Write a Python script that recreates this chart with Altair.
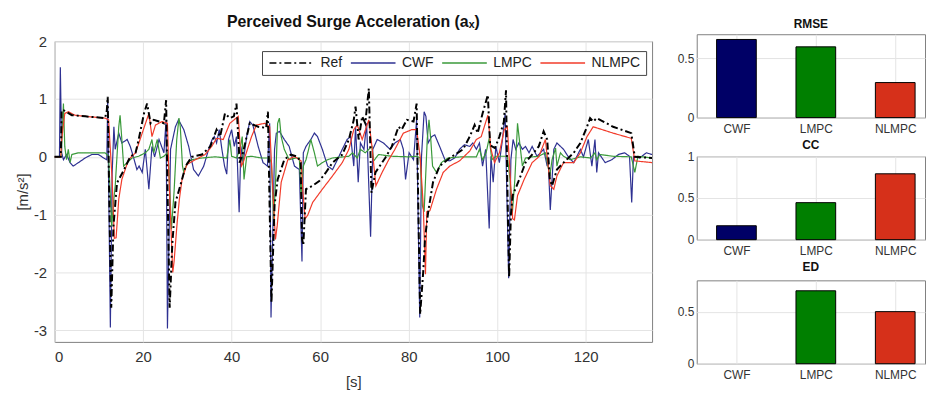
import altair as alt
import pandas as pd

# ---------------- time series ----------------
ref_t = [0, 1.4, 1.6, 2.2, 3.9, 6.9, 11.4, 11.8, 12.0, 12.3, 12.8, 13.3, 14.1, 15.5, 17.1, 18.3, 19.0, 20.2, 20.9,
         21.7, 22.4, 23.6, 24.7, 25.2, 25.5, 26.0, 26.6, 27.3, 28.4, 29.6, 31.0, 33.3, 35.2, 36.6, 37.4, 38.5, 39.6,
         40.5, 41.1, 41.8, 42.5, 44.1, 46.0, 47.8, 48.2, 48.5, 49.0, 49.7, 50.4, 51.9, 53.4, 54.9, 55.6, 55.9, 56.2,
         56.8, 58.3, 59.8, 61.3, 62.8, 65.0, 66.5, 67.6, 68.0, 68.7, 69.5, 70.2, 71.0, 71.6, 72.5, 74.7, 76.2, 77.7,
         78.4, 79.6, 81.1, 81.8, 82.1, 82.6, 83.3, 83.7, 84.4, 85.5, 87.0, 89.3, 92.3, 93.8, 94.9, 95.6, 96.7, 97.9,
         98.4, 99.5, 100.5, 101.5, 102.0, 102.3, 102.7, 103.1, 103.5, 105.0, 106.4, 107.9, 109.4, 110.5, 111.3,
         111.9, 112.4, 113.5, 115.0, 117.3, 118.8, 120.3, 121.0, 121.7, 122.5, 126.2, 130.3, 131.1, 135.0]
ref_v = [0, 0, 0.81, 0.8, 0.72, 0.7, 0.67, 0.8, 1.04, -0.5, -2.61, -1.2, -0.45, -0.25, 0.0, 0.07, 0.3, 0.75, 0.92,
         0.58, 0.64, 0.61, 0.58, 0.98, -0.5, -2.61, -1.5, -0.79, -0.5, -0.16, 0.0, 0.04, 0.18, 0.47, 0.35, 0.75, 0.67,
         0.7, 0.92, -0.1, 0.05, 0.58, 0.52, 0.5, 0.78, -0.5, -2.52, -0.84, -0.39, -0.05, 0.04, 0.0, -0.1, -1.41, -1.53,
         -0.56, -0.5, -0.42, -0.27, -0.1, 0.04, 0.3, 0.64, 0.87, 0.3, 0.7, 0.58, 1.18, -0.62, -0.27, -0.02, 0.18, 0.52,
         0.47, 0.64, 0.61, 0.92, -0.5, -2.72, -1.98, -1.41, -0.96, -0.44, -0.16, -0.02, 0.13, 0.35, 0.55, 0.41, 0.75, 1.07,
         0.2, 0.15, 0.35, 0.6, 1.15, -0.5, -2.08, -1.0, -0.67, -0.39, -0.1, 0.04, 0.18, 0.44, 0.3,
         -0.39, -0.5, -0.22, -0.1, 0.07, 0.24, 0.52, 0.67, 0.61, 0.67, 0.52, 0.41, 0.0, -0.02]

cwf_t = [0, 1.1, 1.3, 1.6, 2.0, 2.7, 3.5, 4.2, 5.4, 6.9, 8.4, 9.9, 11.1, 11.8, 12.0, 12.6, 13.0, 13.4, 13.7, 14.5,
         15.2, 16.4, 17.1, 17.8, 18.6, 19.1, 19.8, 20.5, 21.3, 22.0, 22.6, 23.6, 24.7, 25.2, 25.5, 26.2, 27.3, 28.0,
         29.2, 30.3, 31.4, 32.5, 33.7, 34.8, 35.6, 36.1, 36.6, 37.2, 37.8, 38.4, 38.9, 39.3, 40.0, 40.6, 41.1, 41.7,
         42.1, 42.6, 43.4, 44.1, 44.8, 46.0, 47.1, 48.1, 48.6, 48.9, 49.7, 50.1, 50.8, 51.9, 53.0, 54.2, 55.3, 55.9,
         56.2, 56.8, 57.9, 58.7, 59.4, 60.5, 61.7, 62.8, 63.9, 65.0, 66.1, 66.9, 67.6, 68.0, 68.6, 69.1, 69.9, 70.5,
         71.4, 71.9, 72.9, 74.3, 75.8, 76.9, 78.1, 78.8, 79.3, 80.1, 81.1, 81.8, 82.5, 82.9, 83.5, 83.9, 84.4, 85.2,
         85.9, 87.0, 88.2, 89.3, 90.4, 91.5, 92.6, 93.8, 94.5, 95.3, 96.0, 96.7, 97.4, 98.2, 98.6, 99.1, 99.7, 100.5,
         101.2, 101.8, 102.6, 103.1, 103.6, 104.2, 104.9, 105.7, 106.4, 107.2, 107.9, 109.0, 109.8, 110.5, 111.3,
         111.5, 112.0, 112.8, 113.5, 114.3, 115.0, 116.0, 117.3, 118.8, 119.5, 120.6, 121.4, 122.1, 122.5, 122.9,
         124.4, 125.9, 127.4, 128.8, 129.9, 130.4, 130.8, 132.2, 133.7, 135.0]
cwf_v = [0, 0, 1.55, 0.07, -0.05, 0.04, -0.1, -0.16, -0.1, -0.02, 0.04, 0.04, -0.02, -0.05, 0.98, -2.95, -0.3, 0.52,
         0.13, 0.41, 0.24, 0.3, 0.18, 0.0, -0.22, -0.16, -0.27, 0.13, -0.56, 0.18, 0.0, 0.3, 0.07, 0.64, -2.97, 0.13,
         0.52, 0.64, 0.47, 0.18, -0.22, -0.33, -0.16, 0.13, 0.3, 0.35, 0.24, 0.47, 0.13, -0.16, -0.3, 0.3, 0.47, 0.18,
         0.35, -0.96, 0.18, -0.1, 0.35, 0.61, 0.55, 0.18, -0.1, -0.16, 0.58, -2.78, 0.13, 0.41, 0.44, 0.3, 0.18, -0.16,
         -0.22, -1.81, 0.07, 0.18, 0.3, 0.41, 0.35, 0.13, -0.16, -0.22, -0.05, 0.13, 0.3, 0.35, -0.16, 0.52, -0.44,
         0.24, 0.13, 0.58, -1.38, 0.13, 0.3, 0.24, 0.13, 0.24, 0.3, 0.13, -0.39, 0.07, -0.05, 0.64, -2.78, 0.0, 0.78,
         0.7, 0.24, 0.35, 0.38, 0.18, -0.05, -0.07, -0.02, 0.13, 0.21, 0.18, 0.24, 0.13, 0.24, -0.16, 0.13, -1.24,
         0.01, -0.44, 0.18, -0.1, 0.3, 0.75, -2.1, -0.05, 0.3, 0.13, 0.24, 0.13, 0.18, 0.07, 0.18, 0.01, 0.07, 0.13,
         -0.16, 0.0, -0.92, 0.13, 0.24, 0.18, 0.13, 0.01, -0.1, 0.13, 0.0, 0.3, -0.16, 0.3, -0.27, 0.07, -0.1, -0.05,
         0.04, 0.07, 0.01, -0.79, 0.01, -0.02, 0.07, 0.04]

lmpc_t = [0, 1.5, 2.0, 2.3, 2.7, 3.1, 3.5, 3.9, 5.4, 8.4, 11.4, 12.2, 12.9, 13.3, 13.7, 14.5, 14.8, 15.2, 15.6, 16.4,
          17.5, 19.0, 20.5, 21.3, 22.0, 22.4, 23.2, 23.9, 24.7, 25.5, 25.8, 26.4, 27.0, 27.6, 28.1, 28.4, 28.9, 29.2,
          30.0, 31.0, 33.3, 36.3, 38.9, 39.6, 40.0, 41.1, 41.9, 42.4, 42.8, 43.4, 44.5, 46.7, 48.5, 49.0, 49.5, 50.0,
          50.4, 50.8, 51.2, 51.9, 53.0, 54.5, 55.3, 55.7, 56.2, 56.8, 57.4, 57.9, 58.7, 59.4, 60.5, 61.7, 62.8, 66.5,
          67.3, 68.4, 69.1, 70.2, 71.7, 72.1, 73.2, 76.2, 80.0, 81.8, 82.6, 83.1, 83.5, 84.2, 84.6, 85.0, 85.4, 86.3,
          87.4, 88.9, 92.0, 95.3, 96.0, 96.7, 97.5, 98.2, 98.8, 99.7, 101.2, 102.3, 102.9, 103.4, 104.0, 104.6,
          105.1, 105.7, 106.4, 108.0, 109.4, 110.9, 111.9, 112.4, 113.2, 113.5, 114.3, 115.0, 116.5, 118.8, 121.1,
          122.1, 122.5, 123.2, 126.2, 130.3, 131.1, 131.8, 135.0]
lmpc_v = [0, 0, 0.92, 0.18, -0.05, 0.13, -0.1, 0.04, 0.07, 0.07, 0.07, 0.01, -1.2, -0.8, -0.5, 0.52, 0.72, 0.3,
          -0.16, -0.1, -0.02, 0.01, 0.07, 0.13, 0.3, 0.07, 0.3, -0.02, 0.01, 0.07, -0.16, -1.25, -0.6, 0.3, 0.67, 0.52,
          -0.16, -0.27, -0.1, -0.05, -0.02, 0.0, -0.02, 0.3, 0.01, -0.02, 0.13, 0.35, -0.39, 0.0, 0.01, -0.02, -0.02,
          -0.1, -1.1, -0.3, 0.58, 0.67, 0.35, 0.13, -0.05, -0.02, -0.02, -0.67, -0.16, -0.05, 0.13, 0.3, 0.07, -0.16,
          -0.1, -0.05, -0.02, 0.01, 0.07, -0.02, 0.13, 0.07, 0.18, -0.07, 0.04, 0.01, 0.0, 0.01, -0.02, -0.84, -0.95,
          0.3, 0.64, 0.3, -0.16, -0.27, -0.1, -0.02, 0.0, 0.0, 0.13, -0.05, 0.07, 0.32, -0.05, 0.01, 0.01, 0.01, -0.39,
          -1.0, -0.39, 0.58, 0.24, -0.16, -0.02, 0.0, 0.01, 0.07, -0.33, -0.05, 0.15, -0.16, 0.07, 0.01, -0.05, 0.0,
          -0.02, 0.07, -0.05, 0.04, 0.01, 0.0, -0.27, 0.01, -0.02]

nlmpc_t = [0, 1.4, 1.6, 2.3, 3.1, 4.6, 6.9, 11.4, 12.2, 13.0, 13.5, 13.9, 14.5, 15.2, 16.7, 18.3, 19.8, 21.3, 22.0,
           22.8, 24.3, 25.5, 25.8, 26.7, 27.0, 27.7, 28.2, 28.8, 29.9, 31.8, 34.0, 35.5, 36.6, 38.1, 39.6, 41.5, 42.2,
           42.6, 44.5, 45.6, 47.5, 48.6, 49.3, 49.9, 50.3, 51.2, 52.7, 54.2, 55.7, 56.1, 56.6, 57.2, 58.3, 60.5, 62.8,
           65.0, 66.5, 67.6, 68.4, 69.5, 71.0, 71.7, 72.6, 74.0, 75.5, 76.9, 78.8, 80.7, 81.8, 82.6, 83.3, 83.8, 84.1,
           84.8, 86.3, 87.8, 89.3, 91.5, 93.8, 95.3, 96.4, 97.9, 98.6, 99.4, 100.5, 101.6, 102.3, 102.9, 103.5,
           103.9, 104.6, 106.1, 107.9, 109.4, 110.9, 112.0, 112.8, 113.5, 115.0, 117.3, 118.8, 120.3, 121.7, 126.2,
           130.3, 131.1, 135.0]
nlmpc_v = [0, 0, 0.3, 0.75, 0.78, 0.72, 0.7, 0.67, 0.64, -0.39, -1.41, -1.4, -0.73, -0.39, -0.05, 0.07, 0.41, 0.75,
           0.35, 0.55, 0.61, 0.58, -0.27, -2.0, -1.81, -1.13, -0.73, -0.39, -0.13, -0.05, 0.04, 0.18, 0.32, 0.3, 0.58,
           0.7, -0.16, -0.1, 0.35, 0.55, 0.58, 0.52, -0.56, -1.43, -1.19, -0.44, -0.05, 0.01, -0.07, -0.6, -1.07, -1.01,
           -0.79, -0.56, -0.33, -0.1, 0.13, 0.47, 0.55, 0.3, 0.64, 0.18, -0.5, -0.27, -0.05, 0.13, 0.41, 0.47, 0.47,
           0.0, -0.84, -2.03, -0.95, -0.93, -0.56, -0.27, -0.16, -0.07, 0.1, 0.3, 0.35, 0.72, 0.13, -0.1, 0.07, 0.47,
           0.52, -0.27, -1.07, -1.09, -0.67, -0.39, -0.1, 0.0, 0.3, -0.5, -0.56, -0.33, -0.1, -0.1, 0.07, 0.35, 0.52,
           0.41, 0.32, -0.07, -0.1]

series_names = ["Ref", "CWF", "LMPC", "NLMPC"]
line_colors = ["#000000", "#2e3192", "#3a9a3a", "#f23b2a"]
line_dashes = [[7, 3, 2, 3], [1, 0], [1, 0], [1, 0]]
line_widths = [2, 1.2, 1.2, 1.2]

# ---------------- bar metrics ----------------
ctrl_names = ["CWF", "LMPC", "NLMPC"]
ctrl_pos = [1, 2, 3]
rmse_vals = [0.656, 0.594, 0.294]
cc_vals = [0.167, 0.444, 0.79]
ed_vals = [0.0, 0.70, 0.50]
bar_colors = ["#000066", "#007f00", "#d6301a"]

FONT = "Liberation Sans"
TXT = "#333333"

rows = []
for name, ts, vs in [("Ref", ref_t, ref_v), ("CWF", cwf_t, cwf_v),
                     ("LMPC", lmpc_t, lmpc_v), ("NLMPC", nlmpc_t, nlmpc_v)]:
    for i, (t, v) in enumerate(zip(ts, vs)):
        rows.append({"series": name, "t": t, "v": v, "i": i})
lines_df = pd.DataFrame(rows)

legend = alt.Legend(title=None, orient="none", legendX=209, legendY=10,
                    direction="horizontal", columns=4,
                    symbolType="M-1,0L9,0", symbolSize=81, symbolStrokeWidth=1.5,
                    labelFontSize=14, labelFont=FONT, labelColor="#222222", labelOffset=40,
                    padding=5, strokeColor="#444444", fillColor="white",
                    columnPadding=5, cornerRadius=0)

xenc = alt.X("t:Q", scale=alt.Scale(domain=[0, 135], nice=False),
             axis=alt.Axis(values=[0, 20, 40, 60, 80, 100, 120], title="[s]", labelFontSize=15,
                           titleFontSize=15, labelPadding=8, titlePadding=10, grid=True))
yenc = alt.Y("v:Q", scale=alt.Scale(domain=[-3.2, 2], nice=False),
             axis=alt.Axis(values=[-3, -2, -1, 0, 1, 2], labelExpr="'' + datum.value", title="[m/s²]",
                           labelFontSize=15, titleFontSize=15, labelPadding=8, titlePadding=3, grid=True))
cenc = alt.Color("series:N", scale=alt.Scale(domain=series_names, range=line_colors), legend=legend)
denc = alt.StrokeDash("series:N", scale=alt.Scale(domain=series_names, range=line_dashes), legend=legend)

base = alt.Chart(lines_df).encode(x=xenc, y=yenc, color=cenc, strokeDash=denc, order="i:Q")
draw_order = ["CWF", "LMPC", "NLMPC", "Ref"]
layers = []
for name in draw_order:
    w = line_widths[series_names.index(name)]
    layers.append(base.transform_filter(alt.datum.series == name).mark_line(strokeWidth=w))

main = alt.layer(*layers).properties(width=602, height=303)

# invisible strip that carries the main title, so the plot can sit a little lower than the bar panels
title_strip = alt.Chart(pd.DataFrame({"a": [0]})).mark_point(opacity=0).encode(
    x=alt.value(0), y=alt.value(0)
).properties(width=602, height=1,
             view=alt.ViewBackground(stroke="transparent", strokeWidth=0),
             title=alt.TitleParams("Perceived Surge Acceleration (aₓ)", fontSize=16, offset=2, anchor="middle"))

left = alt.vconcat(title_strip, main, spacing=-4).resolve_scale(
    color="independent", strokeDash="independent").resolve_legend(color="independent", strokeDash="independent")

bar_df = pd.DataFrame({"name": ctrl_names, "pos": ctrl_pos, "rmse": rmse_vals, "cc": cc_vals, "ed": ed_vals})
label_expr = "[" + ",".join("'%s'" % n for n in ctrl_names) + "][datum.value - 1]"


def bar_panel(field, title, ymax, yticks, toff):
    return alt.Chart(bar_df).transform_filter(
        "datum.%s > 0" % field
    ).transform_calculate(
        x1="datum.pos - 0.25", x2="datum.pos + 0.25"
    ).mark_bar(stroke="black", strokeWidth=1).encode(
        x=alt.X("x1:Q", scale=alt.Scale(domain=[0.5, 3.375], nice=False),
                axis=alt.Axis(values=ctrl_pos, labelExpr=label_expr, title=None, labelFontSize=12,
                              labelPadding=6, grid=True)),
        x2="x2:Q",
        y=alt.Y(field + ":Q", scale=alt.Scale(domain=[0, ymax], nice=False),
                axis=alt.Axis(values=yticks, format="~g", title=None, labelFontSize=12,
                              labelPadding=3, grid=True)),
        y2=alt.datum(0),
        color=alt.Color("name:N", scale=alt.Scale(domain=ctrl_names, range=bar_colors), legend=None),
    ).properties(width=230, height=84,
                 title=alt.TitleParams(title, fontSize=12, offset=toff, anchor="middle", frame="group"))


right = alt.vconcat(
    bar_panel("rmse", "RMSE", 0.7, [0, 0.5], 3),
    bar_panel("cc", "CC", 1.0, [0, 0.5, 1], -1.5),
    bar_panel("ed", "ED", 0.8, [0, 0.5], 6),
    spacing=3,
).resolve_scale(color="independent")

chart = alt.hconcat(left, right, spacing=19).resolve_scale(color="independent", strokeDash="independent").properties(
    padding={"left": 15, "top": 12, "right": 0, "bottom": 0}
).configure_view(stroke="#808080", strokeWidth=1).configure_axis(
    domain=False, ticks=False, gridColor="#e4e4e4", gridWidth=1,
    labelFont=FONT, titleFont=FONT, labelColor=TXT, titleColor=TXT, titleFontWeight="normal"
).configure_title(font=FONT, fontWeight="bold", color="#111111")

chart.save("out.html", embed_options={"renderer": "svg", "actions": False})
